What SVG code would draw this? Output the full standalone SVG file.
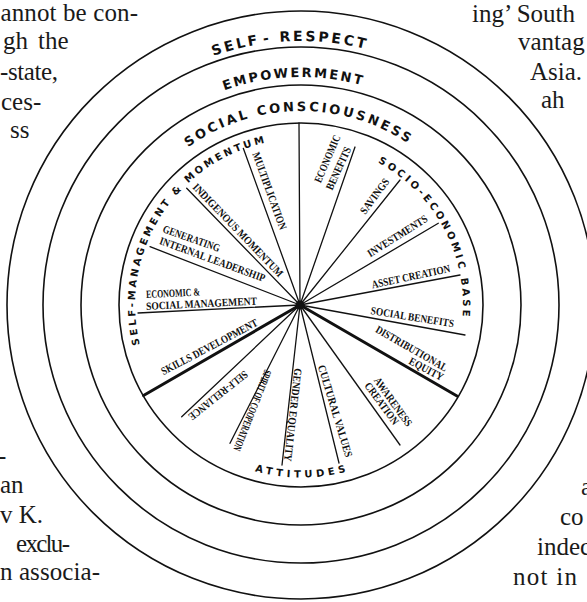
<svg xmlns="http://www.w3.org/2000/svg" width="587" height="602" viewBox="0 0 587 602">
<style>
.ring{fill:none;stroke:#111;stroke-width:1.6}
.spoke{stroke:#111;stroke-width:1.3;stroke-linecap:round}
.thick{stroke:#111;stroke-width:3;stroke-linecap:round}
.arc{font-family:"DejaVu Sans",sans-serif;font-weight:bold;fill:#111}
.lbl{font-family:"Liberation Serif",serif;font-weight:bold;font-size:11px;fill:#111;dominant-baseline:central}
.book{font-family:"Liberation Serif",serif;font-size:25px;fill:#1a1a1a}
</style>
<defs>
<path id="pSR" d="M67.0,182.7 A264,264 0 0 1 523.9,163.5"/>
<path id="pEMP" d="M99.9,197.6 A228,228 0 0 1 494.6,184.5"/>
<path id="pSC" d="M131.8,210.1 A194,194 0 0 1 467.8,206.0"/>
<path id="pSMM" d="M154.2,382.4 A166,166 0 0 1 307.4,139.1"/>
<path id="pSEB" d="M305.7,143.1 A162,162 0 0 1 438.9,390.0"/>
<path id="pATT" d="M152.2,392.3 A172.5,172.5 0 0 0 451.0,390.2"/>
</defs>
<rect width="587" height="602" fill="#fff"/>

<g id="book-text">
<text class="book" x="0.5" y="20.7" textLength="137.5">annot be con-</text>
<text class="book" y="49.3"><tspan x="3">gh </tspan><tspan x="38">the</tspan></text>
<text class="book" x="0" y="80" textLength="58">-state,</text>
<text class="book" x="1" y="110">ces-</text>
<text class="book" x="10" y="138">ss</text>
<text class="book" x="472" y="21.7">ing’ South</text>
<text class="book" x="518" y="50">vantag</text>
<text class="book" x="530" y="80">Asia.</text>
<text class="book" x="541" y="108">ah</text>
<text class="book" x="-2" y="464">-</text>
<text class="book" x="0" y="493.3">an</text>
<text class="book" x="0" y="523.3">v K.</text>
<text class="book" x="16" y="551.7" textLength="54">exclu-</text>
<text class="book" x="0" y="580" textLength="100">n associa-</text>
<text class="book" x="581" y="495">a</text>
<text class="book" x="560" y="525">co</text>
<text class="book" x="537" y="555">indec</text>
<text class="book" x="513" y="585" textLength="64">not in</text>
</g>

<g id="rings">
<circle class="ring" cx="301" cy="305" r="294"/>
<circle class="ring" cx="301" cy="305" r="258"/>
<circle class="ring" cx="301" cy="305" r="220"/>
<circle class="ring" cx="301" cy="305" r="182"/>
</g>

<g id="ring-labels">
<g id="ring-self-respect"><text class="arc" font-size="14" letter-spacing="2.6"><textPath href="#pSR" startOffset="50%" text-anchor="middle">SELF<tspan dx="3.5">-</tspan><tspan dx="8">RESPECT</tspan></textPath></text></g>
<g id="ring-empowerment"><text class="arc" font-size="13" letter-spacing="2.2"><textPath href="#pEMP" startOffset="50%" text-anchor="middle">EMPOWERMENT</textPath></text></g>
<g id="ring-social-consciousness"><text class="arc" font-size="13" letter-spacing="2.7"><textPath href="#pSC" startOffset="50%" text-anchor="middle">SOCIAL CONSCIOUSNESS</textPath></text></g>
<g id="ring-self-management"><text class="arc" font-size="10" letter-spacing="2.7"><textPath href="#pSMM" startOffset="50%" text-anchor="middle">SELF-MANAGEMENT &amp; MOMENTUM</textPath></text></g>
<g id="ring-socio-economic"><text class="arc" font-size="10" letter-spacing="2.9"><textPath href="#pSEB" startOffset="50%" text-anchor="middle">SOCIO-ECONOMIC BASE</textPath></text></g>
<g id="ring-attitudes"><text class="arc" font-size="10" letter-spacing="3.8"><textPath href="#pATT" startOffset="50%" text-anchor="middle">ATTITUDES</textPath></text></g>
</g>

<g id="connectors">
<line class="spoke" x1="300" y1="305" x2="299" y2="123"/>
<line class="spoke" x1="300" y1="305" x2="355" y2="147"/>
<line class="spoke" x1="300" y1="305" x2="400" y2="180"/>
<line class="spoke" x1="300" y1="305" x2="438.3" y2="223.3"/>
<line class="spoke" x1="300" y1="305" x2="460" y2="275"/>
<line class="spoke" x1="300" y1="305" x2="465" y2="335"/>
<line class="thick" x1="300" y1="305" x2="457" y2="396"/>
<line class="spoke" x1="300" y1="305" x2="400" y2="445"/>
<line class="spoke" x1="300" y1="305" x2="339" y2="463"/>
<line class="spoke" x1="300" y1="305" x2="282" y2="465"/>
<line class="spoke" x1="300" y1="305" x2="230" y2="443.3"/>
<line class="spoke" x1="300" y1="305" x2="181.7" y2="416.7"/>
<line class="thick" x1="300" y1="305" x2="143.5" y2="395.5"/>
<line class="spoke" x1="300" y1="305" x2="138" y2="313"/>
<line class="spoke" x1="300" y1="305" x2="150" y2="246.7"/>
<line class="spoke" x1="300" y1="305" x2="186.7" y2="188.3"/>
<line class="spoke" x1="300" y1="305" x2="243.3" y2="148.3"/>
<circle cx="300" cy="305" r="4.5" fill="#111"/>
</g>

<g id="n-economic-benefits">
<text class="lbl" transform="translate(317,182) rotate(-66.8)" textLength="50.7" lengthAdjust="spacingAndGlyphs">ECONOMIC</text>
<text class="lbl" transform="translate(328.7,189) rotate(-65.5)" textLength="45.8" lengthAdjust="spacingAndGlyphs">BENEFITS</text>
</g>
<g id="n-savings"><text class="lbl" transform="translate(362,212.5) rotate(-53.5)" textLength="41.4" lengthAdjust="spacingAndGlyphs">SAVINGS</text></g>
<g id="n-investments"><text class="lbl" transform="translate(368,254) rotate(-32.1)" textLength="69" lengthAdjust="spacingAndGlyphs">INVESTMENTS</text></g>
<g id="n-asset-creation"><text class="lbl" transform="translate(371.7,284.5) rotate(-12)" textLength="80" lengthAdjust="spacingAndGlyphs">ASSET CREATION</text></g>
<g id="n-social-benefits"><text class="lbl" transform="translate(371,310) rotate(9.1)" textLength="84" lengthAdjust="spacingAndGlyphs">SOCIAL BENEFITS</text></g>
<g id="n-distributional-equity">
<text class="lbl" transform="translate(376.7,328.3) rotate(29.7)" textLength="80.6" lengthAdjust="spacingAndGlyphs">DISTRIBUTIONAL</text>
<text class="lbl" transform="translate(410,360) rotate(28)" textLength="37.3" lengthAdjust="spacingAndGlyphs">EQUITY</text>
</g>
<g id="n-awareness-creation">
<text class="lbl" transform="translate(376.7,378.3) rotate(54.5)" textLength="57.4" lengthAdjust="spacingAndGlyphs">AWARENESS</text>
<text class="lbl" transform="translate(367.3,383.3) rotate(53.7)" textLength="49.6" lengthAdjust="spacingAndGlyphs">CREATION</text>
</g>
<g id="n-cultural-values"><text class="lbl" transform="translate(321.7,365) rotate(73.2)" textLength="95.8" lengthAdjust="spacingAndGlyphs">CULTURAL VALUES</text></g>
<g id="n-gender-equality"><text class="lbl" transform="translate(298.4,368.4) rotate(96.4)" textLength="93.5" lengthAdjust="spacingAndGlyphs">GENDER EQUALITY</text></g>
<g id="n-spirit-of-cooperation"><text class="lbl" transform="translate(268.5,370.5) rotate(111.6)" textLength="86" lengthAdjust="spacingAndGlyphs">SPIRIT OF COOPERATION</text></g>
<g id="n-self-reliance"><text class="lbl" transform="translate(246.7,373.3) rotate(141.6)" textLength="72.4" lengthAdjust="spacingAndGlyphs">SELF-RELIANCE</text></g>
<g id="n-skills-development"><text class="lbl" transform="translate(161.7,371.7) rotate(-27.8)" textLength="107.4" lengthAdjust="spacingAndGlyphs">SKILLS DEVELOPMENT</text></g>
<g id="n-economic-social-management">
<text class="lbl" transform="translate(146,294) rotate(-2.6)" textLength="54" lengthAdjust="spacingAndGlyphs">ECONOMIC &amp;</text>
<text class="lbl" transform="translate(146,306) rotate(-2.8)" textLength="111" lengthAdjust="spacingAndGlyphs">SOCIAL MANAGEMENT</text>
</g>
<g id="n-generating-internal-leadership">
<text class="lbl" transform="translate(163.3,228.3) rotate(19.4)" textLength="60" lengthAdjust="spacingAndGlyphs">GENERATING</text>
<text class="lbl" transform="translate(160,240) rotate(20)" textLength="111.8" lengthAdjust="spacingAndGlyphs">INTERNAL LEADERSHIP</text>
</g>
<g id="n-indigenous-momentum"><text class="lbl" transform="translate(195,185) rotate(46.1)" textLength="125" lengthAdjust="spacingAndGlyphs">INDIGENOUS MOMENTUM</text></g>
<g id="n-multiplication"><text class="lbl" transform="translate(256,152.5) rotate(70.1)" textLength="81.5" lengthAdjust="spacingAndGlyphs">MULTIPLICATION</text></g>
</svg>
